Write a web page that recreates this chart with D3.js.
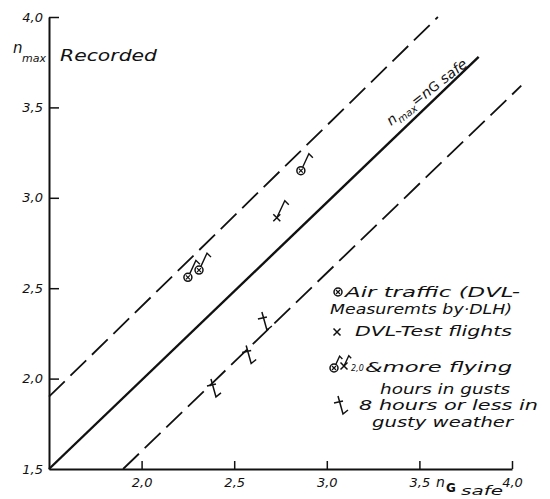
<!DOCTYPE html>
<html><head><meta charset="utf-8">
<script src="https://cdn.jsdelivr.net/npm/d3@7"></script>
<style>
body{margin:0;background:#fff;}
text{font-family:"DejaVu Sans",sans-serif;font-style:italic;fill:#111;}
</style></head>
<body><svg id="c" width="550" height="499"></svg>
<script>
// ---- data ----
const xTicks = [2.0, 2.5, 3.0, 3.5, 4.0];
const yTicks = [1.5, 2.0, 2.5, 3.0, 3.5, 4.0];
// reference lines (n_max = n_G safe and the two bounds)
const solidX = [1.5, 3.82], solidY = [1.5, 3.78];
const upperX = [1.5, 3.6],  upperY = [1.9, 4.0];
const lowerX = [1.9, 4.05], lowerY = [1.5, 3.62];
// Air traffic (DVL measurements by DLH), 20 & more flying hours in gusts
const airX = [2.25, 2.31, 2.86];
const airY = [2.56, 2.60, 3.15];
// DVL test flights, 20 & more hours
const testLongX = [2.73];
const testLongY = [2.89];
// DVL test flights, 8 hours or less in gusty weather
const testShortX = [2.38, 2.57, 2.655];
const testShortY = [1.965, 2.15, 2.335];
const legendLines = ["Air traffic (DVL-", "Measuremts by·DLH)", "DVL-Test flights",
  "&more flying", "hours in gusts", "8 hours or less in", "gusty weather"];

const svg = d3.select("#c");
const x = d3.scaleLinear().domain([1.5, 4.0]).range([49, 512]);
const y = d3.scaleLinear().domain([1.5, 4.0]).range([469, 17]);
const fmt = v => d3.format(".1f")(v).replace(".", ",");

// axes
const gx = svg.append("g").attr("transform", "translate(0,469)")
  .call(d3.axisBottom(x).tickValues(xTicks).tickFormat(fmt).tickSizeInner(-8).tickSizeOuter(0).tickPadding(9));
const gy = svg.append("g").attr("transform", "translate(49,0)")
  .call(d3.axisLeft(y).tickValues(yTicks).tickFormat(fmt).tickSizeInner(-10).tickSizeOuter(0).tickPadding(6));
[gx, gy].forEach(g => {
  g.select(".domain").attr("stroke", "#111").attr("stroke-width", 2);
  g.selectAll(".tick line").attr("stroke", "#111").attr("stroke-width", 1.5);
  g.selectAll(".tick text").style("font-family", '"DejaVu Sans",sans-serif')
    .style("font-style", "italic").style("font-size", "13px").attr("fill", "#111");
});
gy.selectAll(".tick line").filter(d => d === 1.5).remove();

const line = d3.line().x(d => x(d[0])).y(d => y(d[1]));
function ref(xs, ys, dash, w) {
  svg.append("path").datum(d3.zip(xs, ys)).attr("d", line)
    .attr("stroke", "#111").attr("fill", "none").attr("stroke-width", w)
    .attr("stroke-dasharray", dash);
}
ref(solidX, solidY, null, 2.4);
ref(upperX, upperY, "22,8", 1.8);
ref(lowerX, lowerY, "22,8", 1.8);

// symbols
function circX(g, cx, cy) {
  g.append("circle").attr("cx", cx).attr("cy", cy).attr("r", 4)
    .attr("fill", "#fff").attr("stroke", "#111").attr("stroke-width", 1.5);
  g.append("path").attr("d", `M${cx-2},${cy-2}L${cx+2},${cy+2}M${cx+2},${cy-2}L${cx-2},${cy+2}`)
    .attr("stroke", "#111").attr("stroke-width", 1.2);
}
function upFlag(g, cx, cy, r, s = 1) {
  g.append("path").attr("d", `M${cx+r*0.5},${cy-r}L${cx+8*s},${cy-17*s}L${cx+12*s},${cy-13*s}`)
    .attr("stroke", "#111").attr("fill", "none").attr("stroke-width", 1.4);
}
function cross(g, cx, cy) {
  g.append("path").attr("d", `M${cx-3.5},${cy-3.5}L${cx+3.5},${cy+3.5}M${cx+3.5},${cy-3.5}L${cx-3.5},${cy+3.5}`)
    .attr("stroke", "#111").attr("stroke-width", 1.5);
}
function lowCross(g, cx, cy) {
  g.append("path").attr("d", `M${cx-5},${cy+1}L${cx+4},${cy-1}M${cx-1},${cy-6}L${cx+4},${cy+12}L${cx+9},${cy+8}`)
    .attr("stroke", "#111").attr("fill", "none").attr("stroke-width", 1.5);
}
const marks = svg.append("g");
d3.zip(airX, airY).forEach(([a, b]) => { circX(marks, x(a), y(b)); upFlag(marks, x(a), y(b), 4); });
d3.zip(testLongX, testLongY).forEach(([a, b]) => { cross(marks, x(a), y(b)); upFlag(marks, x(a), y(b), 0); });
d3.zip(testShortX, testShortY).forEach(([a, b]) => lowCross(marks, x(a), y(b)));

// legend
const lg = svg.append("g");
circX(lg, 338, 292);
cross(lg, 337, 332);
circX(lg, 334, 368); upFlag(lg, 334, 368, 4, 0.7);
cross(lg, 344, 366); upFlag(lg, 344, 366, 0, 0.6);
lowCross(lg, 339, 402);
const lp = [[345,297,175],[330,314,182],[355,336,157],[365,372,147],[380,394,130],[359,410,179],[372,427,141]];
legendLines.forEach((t, i) => {
  lg.append("text").attr("x", lp[i][0]).attr("y", lp[i][1]).attr("textLength", lp[i][2])
    .attr("lengthAdjust", "spacingAndGlyphs").style("font-size", "14px").text(t);
});
lg.append("text").attr("x", 351).attr("y", 371).style("font-size", "8px").text("2,0");

// y label
const yl = svg.append("text").attr("x", 13).attr("y", 53).style("font-size", "15px");
yl.append("tspan").text("n");
yl.append("tspan").attr("x", 22).attr("y", 62).style("font-size", "11px").text("max");
svg.append("text").attr("x", 60).attr("y", 61).attr("textLength", 97)
  .attr("lengthAdjust", "spacingAndGlyphs").style("font-size", "15px").text("Recorded");

// x label
svg.append("text").attr("x", 436).attr("y", 487).style("font-size", "14px").text("n");
svg.append("text").attr("x", 446).attr("y", 492).style("font-size", "12px").style("font-style","normal").style("font-weight","bold").text("G");
svg.append("text").attr("x", 461).attr("y", 495).attr("textLength", 42)
  .attr("lengthAdjust", "spacingAndGlyphs").style("font-size", "13px").text("safe");

// diagonal label
const dl = svg.append("text").attr("transform", "translate(391,126) rotate(-38)")
  .attr("textLength", 98).attr("lengthAdjust", "spacingAndGlyphs").style("font-size", "14px");
dl.append("tspan").text("n");
dl.append("tspan").attr("dy", 4).style("font-size", "10px").text("max");
dl.append("tspan").attr("dy", -4).text("=n");
dl.append("tspan").style("font-size", "13px").style("font-style","normal").text("G");
dl.append("tspan").text(" safe");
</script></body></html>
